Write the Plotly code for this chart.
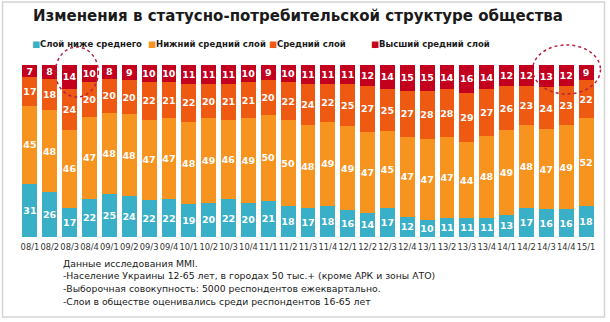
import plotly.graph_objects as go

# Quarters (year/quarter)
quarters = ["08/1", "08/2", "08/3", "08/4", "09/1", "09/2", "09/3", "09/4",
            "10/1", "10/2", "10/3", "10/4", "11/1", "11/2", "11/3", "11/4",
            "12/1", "12/2", "12/3", "12/4", "13/1", "13/2", "13/3", "13/4",
            "14/1", "14/2", "14/3", "14/4", "15/1"]

# Share of each social layer, %
below_middle = [31, 26, 17, 22, 25, 24, 22, 22, 19, 20, 22, 20, 21, 18, 17, 18,
                16, 14, 17, 12, 10, 11, 11, 11, 13, 17, 16, 16, 18]
lower_middle = [45, 48, 46, 47, 48, 48, 47, 47, 48, 49, 46, 49, 50, 50, 48, 49,
                49, 47, 45, 47, 47, 47, 44, 48, 49, 48, 47, 49, 52]
middle = [17, 18, 24, 20, 20, 20, 22, 21, 22, 20, 21, 21, 20, 22, 24, 22,
          25, 27, 25, 27, 28, 28, 29, 27, 26, 23, 24, 23, 22]
upper_middle = [7, 8, 14, 10, 8, 9, 10, 10, 11, 11, 11, 10, 9, 10, 11, 11,
                11, 12, 14, 15, 15, 14, 16, 14, 12, 12, 13, 12, 9]

series_names = ["Слой ниже среднего", "Нижний средний слой", "Средний слой", "Высший средний слой"]
series_values = [below_middle, lower_middle, middle, upper_middle]
series_colors = ["#3AAFC8", "#F7941F", "#EE5A12", "#C4001F"]

notes = [
    "Данные исследования MMI.",
    "-Население Украины 12-65 лет, в городах 50 тыс.+ (кроме АРК и зоны АТО)",
    "-Выборочная совокупность: 5000 респондентов ежеквартально.",
    "-Слои в обществе оценивались среди респондентов 16-65 лет",
]

W, H = 610, 322
ML, MR, MT, MB = 19.5, 13.5, 65, 85
PW, PH = W - ML - MR, H - MT - MB


def px_x(x):
    return (x - ML) / PW


def px_y(y):
    return (H - MB - y) / PH


FONT = "DejaVu Sans"

fig = go.Figure()
for name, vals, color in zip(series_names, series_values, series_colors):
    fig.add_trace(go.Bar(
        x=quarters, y=vals, name=name,
        marker=dict(color=color, line=dict(width=0)),
        text=vals, textposition="inside", insidetextanchor="middle",
        textangle=0, constraintext="none",
        textfont=dict(family=FONT, size=9.5, color="white", weight="bold"),
        showlegend=False,
    ))

annotations = [
    dict(text="<b>Изменения в статусно-потребительской структуре общества</b>",
         xref="paper", yref="paper", x=px_x(298), y=px_y(16),
         xanchor="center", yanchor="middle", showarrow=False,
         font=dict(family=FONT, size=15, color="#1a1a1a")),
]

# Legend row
legend_x = [30, 146, 267, 369]
for lx, name, color in zip(legend_x, series_names, series_colors):
    annotations.append(dict(
        text=f"<span style='color:{color}'>■</span><b>{name}</b>",
        xref="paper", yref="paper", x=px_x(lx), y=px_y(44),
        xanchor="left", yanchor="middle", showarrow=False,
        font=dict(family=FONT, size=8.5, color="#1a1a1a")))

# Survey notes
for i, line in enumerate(notes):
    annotations.append(dict(
        text=line, xref="paper", yref="paper", x=px_x(61), y=px_y(263 + 12.8 * i),
        xanchor="left", yanchor="middle", showarrow=False,
        font=dict(family=FONT, size=9.3, color="#1a1a1a")))

shapes = [
    # outer frame
    dict(type="rect", xref="paper", yref="paper",
         x0=px_x(2), x1=px_x(605), y0=px_y(2), y1=px_y(317),
         line=dict(color="#d4d4d4", width=1.5), fillcolor="rgba(0,0,0,0)", layer="below"),
    # dotted highlight circles
    dict(type="circle", xref="paper", yref="paper",
         x0=px_x(55), x1=px_x(98), y0=px_y(47), y1=px_y(97),
         line=dict(color="#B8203F", width=1.5, dash="dot")),
    dict(type="circle", xref="paper", yref="paper",
         x0=px_x(533), x1=px_x(601), y0=px_y(45), y1=px_y(94),
         line=dict(color="#B8203F", width=1.5, dash="dot")),
]

fig.update_layout(
    width=W, height=H,
    margin=dict(l=ML, r=MR, t=MT, b=MB, pad=0),
    barmode="stack", barnorm="percent", bargap=0.25,
    paper_bgcolor="white", plot_bgcolor="white",
    annotations=annotations, shapes=shapes,
    xaxis=dict(type="category", showgrid=False, showline=False, zeroline=False,
               ticks="", tickangle=0, ticklabelstandoff=4,
               tickfont=dict(family=FONT, size=8.3, color="#333333")),
    yaxis=dict(range=[0, 100], visible=False, showgrid=False, zeroline=False),
    font=dict(family=FONT),
)

fig.write_html("out.html")
